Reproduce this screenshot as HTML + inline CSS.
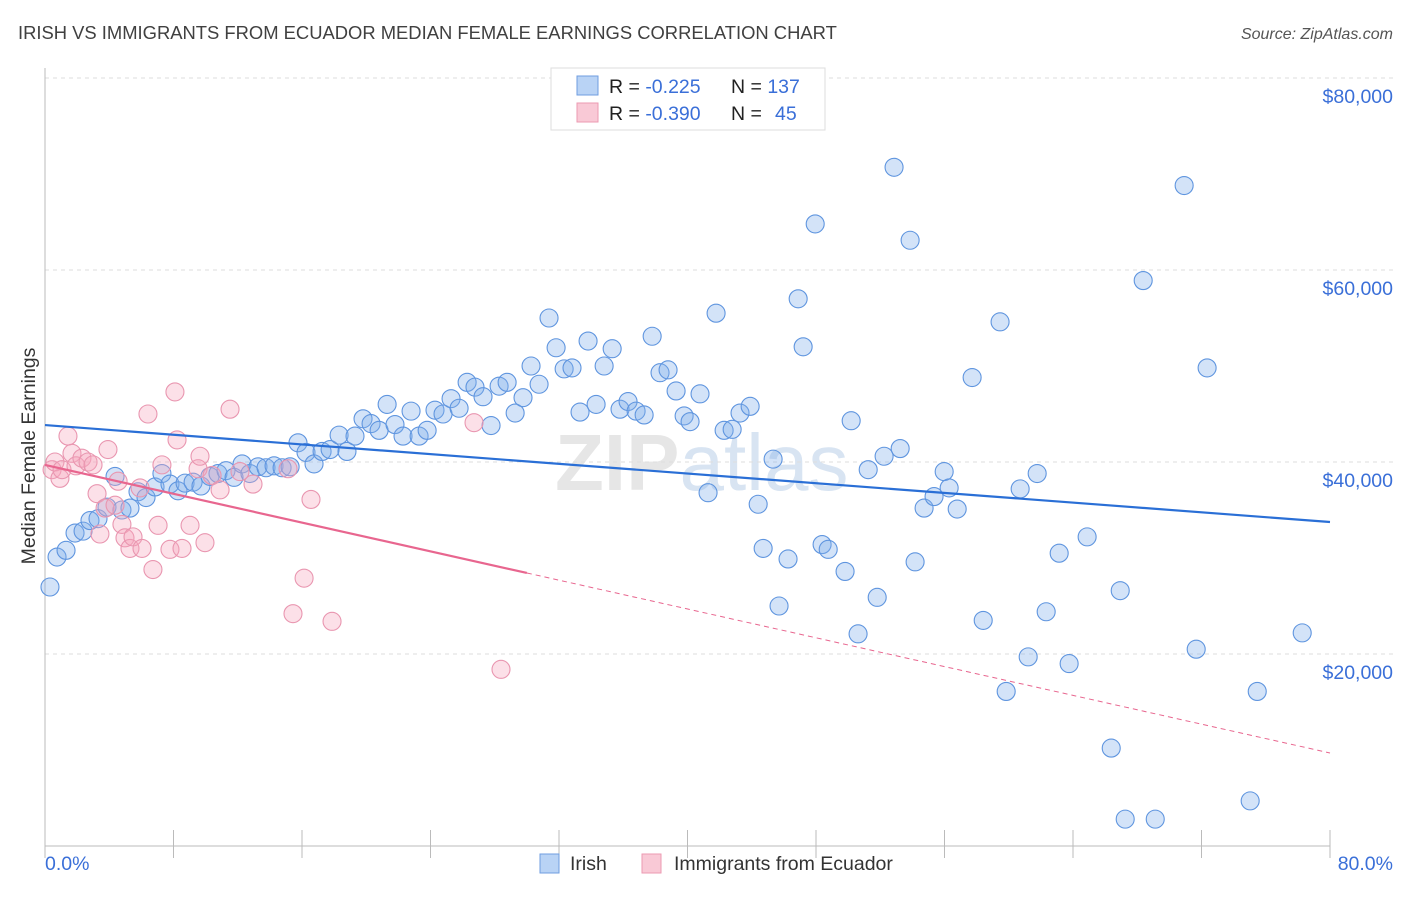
<!DOCTYPE html>
<html><head><meta charset="utf-8"><style>
body{margin:0;background:#fff;font-family:"Liberation Sans",sans-serif}
svg text{font-family:"Liberation Sans",sans-serif}
</style></head><body>
<svg id="chart" width="1406" height="892" xmlns="http://www.w3.org/2000/svg">
<text x="18" y="39" font-size="18.4" fill="#404040">IRISH VS IMMIGRANTS FROM ECUADOR MEDIAN FEMALE EARNINGS CORRELATION CHART</text>
<text x="1393" y="39" font-size="16" fill="#555" font-style="italic" text-anchor="end">Source: ZipAtlas.com</text>
<text x="555" y="490" font-size="80" fill="#e6e6e6" font-family="Liberation Serif" font-weight="bold">ZIP<tspan font-family="Liberation Sans" font-weight="normal" fill="#d8e4f2">atlas</tspan></text>
<g id="grid"></g>
<g id="axes"></g>
<g id="pts"></g>
<g id="trend"></g>
<text transform="translate(35,456) rotate(-90)" font-size="19.5" fill="#333" text-anchor="middle">Median Female Earnings</text>
<text x="45" y="870" font-size="19.5" fill="#3a6fd8">0.0%</text>
<text x="1393" y="870" font-size="19.5" fill="#3a6fd8" text-anchor="end">80.0%</text>
<g>
<rect x="551" y="68" width="274" height="62" fill="#fff" stroke="#ddd"/>
<rect x="577" y="76" width="21" height="19" fill="#b9d3f5" stroke="#6f9ee0"/>
<rect x="577" y="103" width="21" height="19" fill="#f9c9d6" stroke="#ec9ab2"/>
<text x="609" y="93" font-size="19.5" fill="#222">R = <tspan fill="#3a6fd8">-0.225</tspan><tspan x="731">N = </tspan><tspan fill="#3a6fd8">137</tspan></text>
<text x="609" y="120" font-size="19.5" fill="#222">R = <tspan fill="#3a6fd8">-0.390</tspan><tspan x="731">N = </tspan><tspan fill="#3a6fd8" x="775">45</tspan></text>
</g>
<g>
<rect x="540" y="854" width="19" height="19" fill="#b9d3f5" stroke="#6f9ee0"/>
<text x="570" y="870" font-size="19.5" fill="#333">Irish</text>
<rect x="642" y="854" width="19" height="19" fill="#f9c9d6" stroke="#ec9ab2"/>
<text x="674" y="870" font-size="19.5" fill="#333">Immigrants from Ecuador</text>
</g>
</svg>
<script>
const yTicks=[20000,40000,60000,80000];
const yTickLabels=["$20,000","$40,000","$60,000","$80,000"];
const xTicks=[0,8,16,24,32,40,48,56,64,72,80];
const irishX=[0.31,0.75,1.31,1.87,2.37,2.80,3.30,3.86,4.36,4.79,5.29,5.79,6.29,6.85,7.28,7.78,8.28,8.72,9.22,9.71,10.27,10.77,11.27,11.77,12.27,12.76,13.26,13.76,14.26,14.76,15.26,15.75,16.25,16.75,17.25,17.75,18.31,18.80,19.30,19.80,20.30,20.80,21.30,21.79,22.29,22.79,23.29,23.79,24.28,24.78,25.28,25.78,26.28,26.77,27.27,27.77,28.27,28.77,29.27,29.76,30.26,30.76,31.38,31.82,32.32,32.81,33.31,33.81,34.31,34.81,35.31,35.80,36.30,36.80,37.30,37.80,38.29,38.79,39.29,39.79,40.16,40.78,41.28,41.78,42.28,42.78,43.27,43.90,44.40,44.71,45.33,45.70,46.26,46.89,47.20,47.95,48.38,48.76,49.81,50.19,50.62,51.25,51.81,52.24,52.86,53.24,53.86,54.17,54.73,55.35,55.98,56.29,56.79,57.72,58.41,59.46,59.84,60.71,61.21,61.77,62.33,63.14,63.76,64.88,66.38,66.94,67.25,68.37,69.12,70.92,71.67,72.35,75.03,75.47,78.27];
const irishY=[26980,30100,30800,32600,32800,33900,34100,35300,38500,35000,35200,36900,36300,37400,38800,37700,37000,37800,37900,37500,38500,38800,39100,38400,39800,38800,39500,39400,39600,39400,39500,42000,41000,39800,41100,41300,42800,41100,42700,44500,44000,43300,46000,43900,42700,45300,42700,43300,45400,45000,46600,45600,48300,47800,46800,43800,47900,48300,45100,46700,50000,48100,55000,51900,49700,49800,45200,52600,46000,50000,51800,45500,46300,45300,44900,53100,49300,49600,47400,44800,44200,47100,36800,55500,43300,43400,45100,45800,35600,31000,40300,25000,29900,57000,52000,64800,31400,30900,28600,44300,22100,39200,25900,40600,70700,41400,63100,29600,35200,36400,39000,37300,35100,48800,23500,54600,16100,37200,19700,38800,24400,30500,19000,32200,10200,26600,2800,58900,2800,68800,20500,49800,4700,16100,22200];
const ecuX=[0.44,0.62,0.93,1.06,1.43,1.68,1.93,2.30,2.68,2.99,3.24,3.42,3.74,3.92,4.36,4.55,4.79,4.98,5.29,5.48,5.92,6.04,6.41,6.72,7.04,7.28,7.78,8.09,8.22,8.53,9.03,9.53,9.65,9.96,10.40,10.90,11.52,12.14,12.95,15.13,15.44,16.13,16.56,17.87,26.71,28.39];
const ecuY=[39200,40000,38300,39200,42700,40900,39600,40400,40000,39700,36700,32500,35200,41300,35500,38000,33500,32100,31000,32200,37300,31000,45000,28800,33400,39700,30900,47300,42300,31000,33400,39300,40600,31600,38600,37100,45500,39000,37700,39300,24200,27900,36100,23400,44100,18400];
const irishTrend=[43850,33750];
const ecuTrend=[39690,9690];
const ecuSolidEnd=30;
const NS="http://www.w3.org/2000/svg";
const X=v=>45+v/80*1285, Y=v=>846-v/20000*192;
function mk(t,a,p){const e=document.createElementNS(NS,t);for(const k in a)e.setAttribute(k,a[k]);p.appendChild(e);return e;}
const grid=document.getElementById('grid');
yTicks.forEach((t,i)=>{
 const l=mk('line',{x1:45,x2:1393,y1:Y(t),y2:Y(t),stroke:'#dedede','stroke-dasharray':'4,4'},grid);
 
 
 const tx=mk('text',{x:1393,y:Y(t)+25,'font-size':19.5,fill:'#3a6fd8','text-anchor':'end'},grid);
 tx.textContent=yTickLabels[i];
 
 
});
const ax=document.getElementById('axes');
mk('line',{x1:45,x2:45,y1:68,y2:846,stroke:'#bbb'},ax);
mk('line',{x1:45,x2:1330,y1:846,y2:846,stroke:'#bbb'},ax);
xTicks.forEach(t=>{const l=mk('line',{x1:X(t),x2:X(t),y1:830,y2:858,stroke:'#bbb'},ax);
 
 });
const pts=document.getElementById('pts');
irishX.forEach((x,i)=>{const c=mk('circle',{cx:X(x),cy:Y(irishY[i]),r:9,fill:'rgba(130,175,235,0.35)',stroke:'#5f95df','stroke-width':1.1},pts);
 
 });
ecuX.forEach((x,i)=>{const c=mk('circle',{cx:X(x),cy:Y(ecuY[i]),r:9,fill:'rgba(245,165,190,0.35)',stroke:'#e996b0','stroke-width':1.1},pts);
 
 });
const tr=document.getElementById('trend');
const bl=mk('line',{x1:X(0),y1:Y(irishTrend[0]),x2:X(80),y2:Y(irishTrend[1]),stroke:'#2a6fd6','stroke-width':2.2},tr);


const em=ecuTrend[0]+(ecuTrend[1]-ecuTrend[0])*ecuSolidEnd/80;
const pl=mk('line',{x1:X(0),y1:Y(ecuTrend[0]),x2:X(ecuSolidEnd),y2:Y(em),stroke:'#e8668f','stroke-width':2.2},tr);


const pd=mk('line',{x1:X(ecuSolidEnd),y1:Y(em),x2:X(80),y2:Y(ecuTrend[1]),stroke:'#e8668f','stroke-width':1,'stroke-dasharray':'5,4'},tr);


</script>
</body></html>
